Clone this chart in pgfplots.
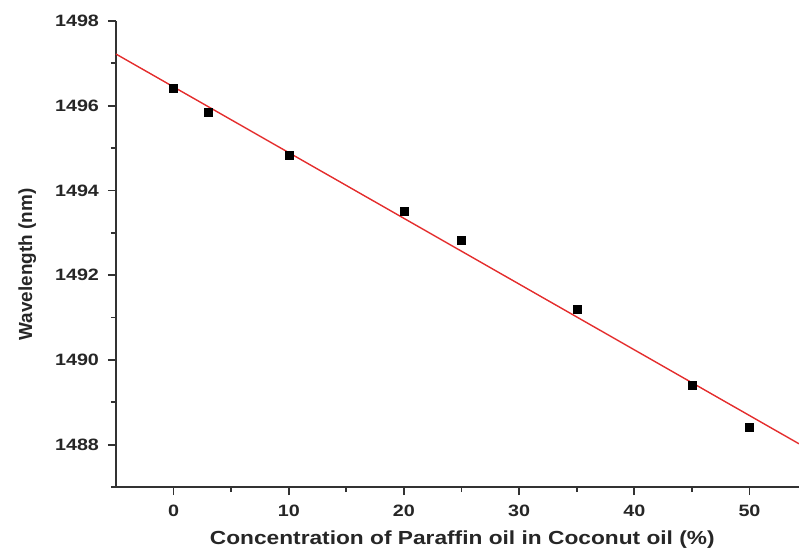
\documentclass[border=0pt]{standalone}
\usepackage{pgfplots}
\pgfplotsset{compat=1.18}
\usepackage{fontspec}
\setmainfont{Liberation Sans}
\definecolor{fitred}{RGB}{228,45,45}
\definecolor{axgray}{RGB}{50,50,50}
\begin{document}
\begin{tikzpicture}
  \begin{axis}[
      name=ax,
      scale only axis,
      width=683bp, height=466bp,
      xmin=-5, xmax=54.3,
      ymin=1487, ymax=1498,
      axis lines*=left,
      axis line style={line width=2bp, axgray},
      xtick={0,10,20,30,40,50},
      minor xtick={5,15,25,35,45},
      ytick={1488,1490,1492,1494,1496,1498},
      minor ytick={1487,1489,1491,1493,1495,1497},
      tick align=outside,
      major tick length=8bp, minor tick length=5bp,
      tick style={line width=1.8bp, axgray},
      ticklabel style={font=\fontsize{16.5}{19}\selectfont\bfseries, xscale=1.2, text=black!85},
      /pgf/number format/assume math mode=true,
      yticklabel style={/pgf/number format/1000 sep={}, xshift=-4bp},
      xticklabel style={yshift=-7bp},
      xlabel={Concentration of Paraffin oil in Coconut oil (\%)},
      ylabel={Wavelength (nm)},
      label style={font=\fontsize{19}{22}\selectfont\bfseries, text=black!85},
      xlabel style={at={(axis description cs:0.507,-0.1137)}, anchor=center, xscale=1.2},
      ylabel style={at={(axis description cs:-0.130,0.4775)}, anchor=center},
      clip=false,
    ]
    % linear fit
    \addplot[fitred, line width=1.4bp] coordinates {
      (-5, 1497.22) (54.3, 1488.02)
    };
    % measured points
    \addplot[only marks, mark=square*, mark size=4bp, black] coordinates {
      (0, 1496.42)
      (3, 1495.84)
      (10, 1494.84)
      (20, 1493.50)
      (25, 1492.82)
      (35, 1491.20)
      (45, 1489.41)
      (50, 1488.42)
    };
  \end{axis}
  \pgfresetboundingbox
  \useasboundingbox ([shift={(-116bp,-67bp)}]ax.south west) rectangle ([shift={(0bp,21bp)}]ax.north east);
\end{tikzpicture}
\end{document}
